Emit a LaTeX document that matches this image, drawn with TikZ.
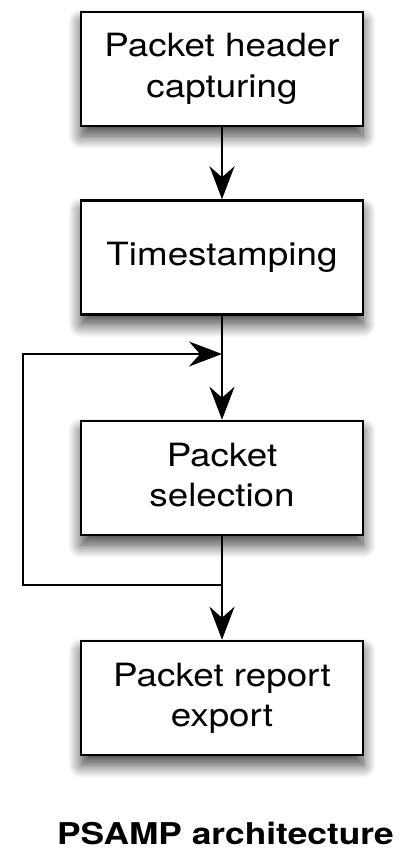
\documentclass[tikz,border=0pt]{standalone}
\usepackage{fontspec}
\usepackage{graphicx}
\setmainfont{TeX Gyre Heros}
\usetikzlibrary{arrows.meta,shadows.blur}
\newcommand\vsq[2][0.87]{\scalebox{1}[#1]{\begin{tabular}{@{}c@{}}#2\end{tabular}}}
\tikzset{
  stagebox/.style={draw=black, line width=2.5pt, fill=white, minimum width=282pt, minimum height=114pt,
    inner sep=0pt, font=\fontsize{36.8}{46}\selectfont,
    blur shadow={shadow xshift=0pt, shadow yshift=-10pt, shadow blur radius=13pt, shadow opacity=75, shadow blur steps=14}},
  flow/.style={line width=2.5pt, -{Stealth[length=33pt, width=25pt, inset=11pt]}},
  plain/.style={line width=2.5pt}
}
\begin{document}
\begin{tikzpicture}[x=1pt, y=-1pt]
\useasboundingbox (0,0) rectangle (400,852);
\node[stagebox] (b1) at (222,69) {\vsq{Packet header\\capturing}};
\node[stagebox] (b2) at (222,257.5) {\vsq{Timestamping}};
\node[stagebox] (b3) at (222,478) {\vsq{Packet\\selection}};
\node[stagebox] (b4) at (222,698) {\vsq{Packet report\\export}};
\node[anchor=base, inner sep=0pt, font=\fontsize{35.3}{40}\selectfont\bfseries] (title) at (225.5,843) {\vsq[0.85]{PSAMP architecture}};
\coordinate (j) at (222,585);
\coordinate (c1) at (23,585);
\coordinate (c2) at (23,354);
\coordinate (m) at (222,354);
\draw[flow] (b1.south) -- (b2.north);
\draw[flow] (b2.south) -- (b3.north);
\draw[flow] (b3.south) -- (b4.north);
\draw[flow, line join=miter] (j) -- (c1) -- (c2) -- (m);
\end{tikzpicture}
\end{document}
